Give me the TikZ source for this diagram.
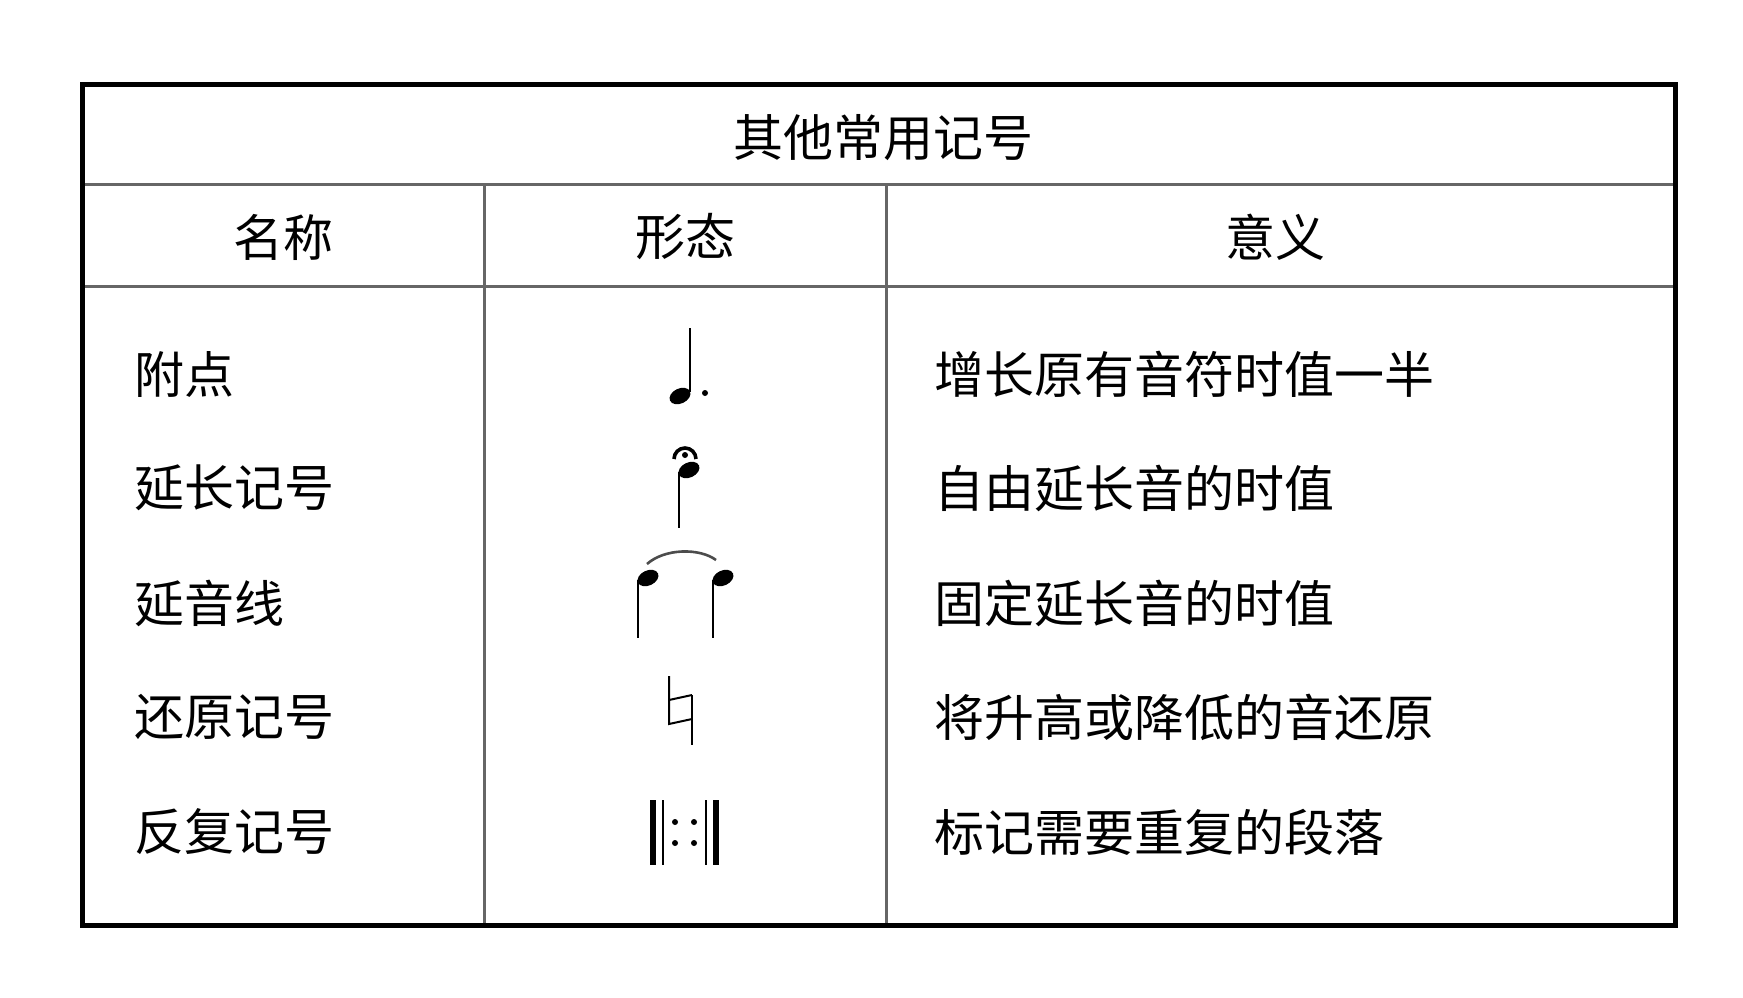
\documentclass[tikz,border=0pt]{standalone}
\usepackage{fontspec}
\newfontfamily\cjk{Noto Sans CJK SC}
\begin{document}
\begin{tikzpicture}[x=0.5pt,y=-0.5pt,
  txt/.style={font=\cjk\fontsize{25}{30}\selectfont,inner sep=0pt},
  lefttxt/.style={txt,anchor=west},
  grid/.style={draw=gray!80!black,line width=1.5pt}]
\useasboundingbox (0,0) rectangle (1743,997);
\draw[grid] (82,184) -- (1675,184);
\draw[grid] (82,286) -- (1675,286);
\draw[grid] (484,184) -- (484,925);
\draw[grid] (886,184) -- (886,925);
\draw[line width=2.5pt] (82,84) rectangle (1675,925);
\node[txt] (title) at (883,138) {其他常用记号};
\node[txt] (h1) at (283,237) {名称};
\node[txt] (h2) at (685,237) {形态};
\node[txt] (h3) at (1275,237) {意义};
\foreach \y/\n/\m [count=\i] in {374/附点/增长原有音符时值一半,488/延长记号/自由延长音的时值,603/延音线/固定延长音的时值,717/还原记号/将升高或降低的音还原,832/反复记号/标记需要重复的段落}{
  \node[lefttxt] (n\i) at (134,\y) {\n};
  \node[lefttxt] (m\i) at (934,\y) {\m};
}
% dotted note
\draw[line width=1.3pt] (690,328) -- (690,392);
\fill[rotate around={25:(680,396)}] (680,396) ellipse (11 and 7.5);
\fill (705,393) circle (3);
% fermata note
\draw[line width=1.3pt] (679,472) -- (679,528);
\fill[rotate around={25:(689,470)}] (689,470) ellipse (11 and 7.5);
\draw[line width=1.8pt] (674,459) arc (180:360:11);
\fill (685,455) circle (3);
% tie
\draw[line width=1.3pt] (638,580) -- (638,638);
\fill[rotate around={25:(648,578)}] (648,578) ellipse (11 and 7.5);
\draw[line width=1.3pt] (713,580) -- (713,638);
\fill[rotate around={25:(723,578)}] (723,578) ellipse (11 and 7.5);
\draw[gray!60!black,line width=1.3pt] (647,564) .. controls (665,548) and (700,548) .. (716,560);
% natural
\draw[line width=1pt] (669,676) -- (669,724) -- (692,719);
\draw[line width=1pt] (669,700) -- (692,695);
\draw[line width=1pt] (692,695) -- (692,745);
% repeat
\draw[line width=3pt] (653,800) -- (653,865);
\draw[line width=1.2pt] (663,800) -- (663,865);
\draw[line width=3pt] (716,800) -- (716,865);
\draw[line width=1.2pt] (706,800) -- (706,865);
\foreach \x in {675,694}{\fill (\x,822) circle (3); \fill (\x,843) circle (3);}
\end{tikzpicture}
\end{document}
